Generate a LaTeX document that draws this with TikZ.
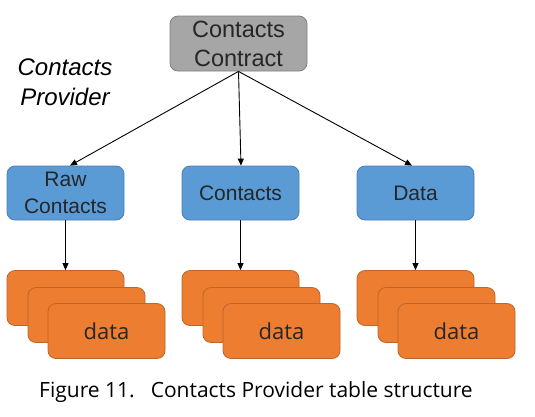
\documentclass[tikz,border=0pt]{standalone}
\usepackage{fontspec}
\setmainfont{Liberation Sans}
\newfontfamily\capfont{Open Sans}
\usetikzlibrary{arrows.meta,calc}
\definecolor{boxgray}{HTML}{A6A6A6}
\definecolor{boxgrayline}{HTML}{808080}
\definecolor{boxblue}{HTML}{5B9BD5}
\definecolor{boxblueline}{HTML}{4A7FB5}
\definecolor{boxorange}{HTML}{ED7D31}
\definecolor{boxorangeline}{HTML}{C0652A}
\tikzset{
  base/.style={rounded corners=8pt, line width=0.8pt, inner sep=0pt, align=center, text=black!85},
  graybox/.style={base, fill=boxgray, draw=boxgrayline, minimum width=137pt, minimum height=55pt, font=\fontsize{23.5}{29}\selectfont},
  bluebox/.style={base, fill=boxblue, draw=boxblueline, minimum width=117pt, minimum height=54pt, font=\fontsize{21}{27}\selectfont},
  orangebox/.style={base, fill=boxorange, draw=boxorangeline, minimum width=117pt, minimum height=55pt, font=\capfont\fontsize{22}{28}\selectfont},
  arr/.style={line width=0.9pt, -{Triangle[length=7pt,width=6pt]}}
}
\begin{document}
\begin{tikzpicture}[x=1pt,y=-1pt]
\useasboundingbox (0,0) rectangle (535,416);
\fill[white] (0,0) rectangle (535,416);
\node[graybox] (top) at (238.5,43.5) {Contacts\\Contract};
\node[font=\itshape\fontsize{24}{30}\selectfont, align=center] (prov) at (65,82) {Contacts\\Provider};
\node[bluebox] (raw) at (65.5,193) {Raw\\Contacts};
\node[bluebox] (con) at (240.5,193) {Contacts};
\node[bluebox] (dat) at (415.5,193) {Data};
\foreach \n/\x in {r/0,c/175,d/350}{
  \node[orangebox] (\n1) at (65.5+\x,298) {};
  \node[orangebox] (\n2) at (86.5+\x,315) {};
  \node[orangebox] (\n3) at (106.5+\x,331) {data};
}
\draw[arr] (top.south) -- ($(raw.north)+(4.5,0)$);
\draw[arr] (top.south) -- ($(con.north)+(0.5,0)$);
\draw[arr] (top.south) -- ($(dat.north)+(-3.5,0)$);
\draw[arr] (raw.south) -- (r1.north);
\draw[arr] (con.south) -- (c1.north);
\draw[arr] (dat.south) -- (d1.north);
\node[font=\capfont\fontsize{21}{26}\selectfont] (cap) at (256,392) {Figure 11.\hspace{16pt}Contacts Provider table structure};
\end{tikzpicture}
\end{document}
